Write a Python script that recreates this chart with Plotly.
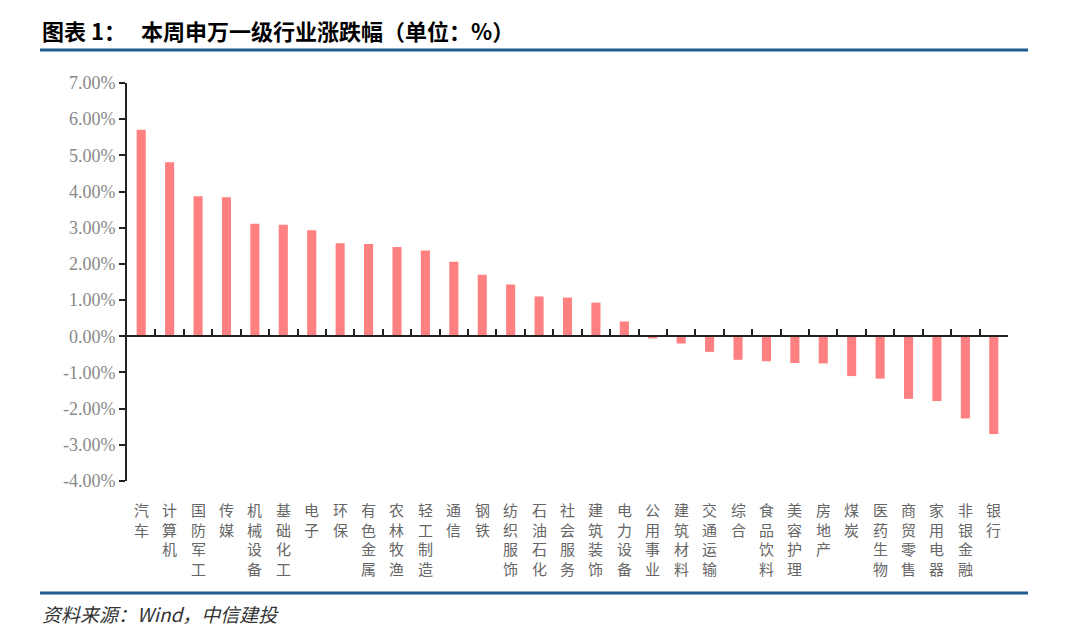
import plotly.graph_objects as go

categories = ["汽车", "计算机", "国防军工", "传媒", "机械设备", "基础化工", "电子", "环保",
              "有色金属", "农林牧渔", "轻工制造", "通信", "钢铁", "纺织服饰", "石油石化",
              "社会服务", "建筑装饰", "电力设备", "公用事业", "建筑材料", "交通运输", "综合",
              "食品饮料", "美容护理", "房地产", "煤炭", "医药生物", "商贸零售", "家用电器",
              "非银金融", "银行"]
values = [5.71, 4.81, 3.87, 3.84, 3.11, 3.08, 2.93, 2.57,
          2.55, 2.47, 2.37, 2.06, 1.70, 1.43, 1.10,
          1.07, 0.93, 0.41, -0.06, -0.20, -0.43, -0.65,
          -0.69, -0.74, -0.75, -1.10, -1.17, -1.73, -1.79,
          -2.27, -2.70]
y_ticks = [7, 6, 5, 4, 3, 2, 1, 0, -1, -2, -3, -4]
y_tick_labels = ["7.00%", "6.00%", "5.00%", "4.00%", "3.00%", "2.00%", "1.00%", "0.00%",
                 "-1.00%", "-2.00%", "-3.00%", "-4.00%"]
title_text = "图表 1：   本周申万一级行业涨跌幅（单位：%）"
source_text = "资料来源：Wind，中信建投"

W, H = 1080, 639
L, R, T, B = 127, 72, 83, 158
PW = W - L - R
PH = H - T - B
ymin, ymax = -4, 7


def px_x(px):
    return (px - L) / PW


def px_y(py):
    return (H - B - py) / PH


fig = go.Figure()
fig.add_trace(go.Bar(x=categories, y=values, marker=dict(color="#FF8080", line=dict(width=0)),
                     width=0.32, showlegend=False, hoverinfo="x+y"))

zero_pos = (0 - ymin) / (ymax - ymin)

fig.update_layout(
    width=W, height=H,
    margin=dict(l=L, r=R, t=T, b=B),
    paper_bgcolor="white", plot_bgcolor="white",
    font=dict(family="Noto Sans CJK SC", color="#666666"),
    xaxis=dict(
        type="category", range=[-0.5, len(categories) - 0.5],
        anchor="free", position=zero_pos,
        showline=True, linecolor="#222222", linewidth=2,
        ticks="inside", tickson="boundaries", ticklen=6, tickwidth=2, tickcolor="#222222",
        showticklabels=False, showgrid=False, zeroline=False, fixedrange=True,
    ),
    yaxis=dict(
        range=[ymin, ymax], tickmode="array", tickvals=y_ticks, ticktext=y_tick_labels,
        showline=True, linecolor="#222222", linewidth=2,
        ticks="outside", ticklen=6, tickwidth=2, tickcolor="#222222",
        showgrid=False, zeroline=False,
    ),
)
fig.update_yaxes(tickfont=dict(family="Liberation Serif", size=18, color="#888888"))

for cat in categories:
    fig.add_annotation(
        x=cat, y=0, xref="x", yref="paper", yanchor="top", xanchor="center",
        yshift=-16, showarrow=False,
        text="<br>".join(list(cat)),
        font=dict(family="Noto Sans CJK SC", size=15, color="#666666"),
    )

fig.add_annotation(
    x=px_x(40), y=px_y(30), xref="paper", yref="paper", xanchor="left", yanchor="middle",
    showarrow=False, text="<b>" + title_text + "</b>",
    font=dict(family="Noto Sans CJK SC", size=22, color="#000000"),
)
fig.add_annotation(
    x=px_x(40), y=px_y(613), xref="paper", yref="paper", xanchor="left", yanchor="middle",
    showarrow=False, text="<i>" + source_text + "</i>",
    font=dict(family="Noto Sans CJK SC", size=19, color="#333333"),
)

for ly in (50, 593):
    fig.add_shape(type="line", xref="paper", yref="paper",
                  x0=px_x(40), x1=px_x(1028), y0=px_y(ly), y1=px_y(ly),
                  line=dict(color="#1F5B8E", width=3))

fig.write_html("out.html")
